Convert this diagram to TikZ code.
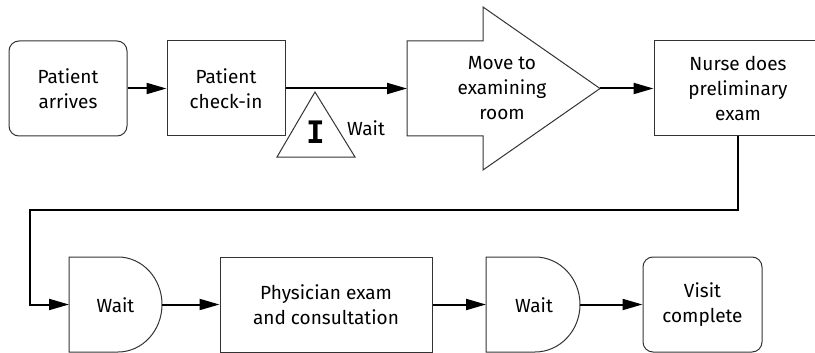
\documentclass[tikz,border=0pt]{standalone}
\usepackage{fontspec}
\setmainfont{Fira Sans}
\newfontfamily\monofont{DejaVu Sans Mono}
\usetikzlibrary{arrows.meta}
\begin{document}
\begin{tikzpicture}[x=1pt,y=-1pt,
  lbl/.style={font=\fontsize{19}{25}\selectfont, align=center, inner sep=0pt},
  box/.style={lbl, draw=black!80, line width=1pt, minimum height=95pt},
  rbox/.style={box, rounded corners=10pt},
  shp/.style={draw=black!80, line width=1pt},
  conn/.style={line width=2pt, -{Triangle[length=20pt,width=11pt]}}]
\useasboundingbox (0,0) rectangle (815,353);
% top row
\node[rbox, minimum width=118pt] (arrive) at (68,88.5) {Patient\\arrives};
\node[box, minimum width=118pt] (checkin) at (226,88.5) {Patient\\check-in};
\draw[shp] (407,41) -- (483,41) -- (483,7) -- (600,88.5) -- (483,170) -- (483,136) -- (407,136) -- cycle;
\coordinate (movetail) at (407,88.5);
\coordinate (movetip) at (600,88.5);
\node[lbl] (move) at (502,88) {Move to\\examining\\room};
\node[box, minimum width=168pt] (nurse) at (738,88.5) {Nurse does\\preliminary\\exam};
% inventory triangle
\draw[shp] (315,92) -- (355,157) -- (277,157) -- cycle;
\node[inner sep=0pt, font=\monofont\bfseries\fontsize{31}{31}\selectfont] (inv) at (315.5,132) {I};
\node[lbl] (wait0) at (366,128) {Wait};
% bottom row
\draw[shp] (69,257) -- (118,257) arc[start angle=-90, end angle=90, x radius=44, y radius=47.5] -- (69,352) -- cycle;
\node[lbl] (wait1) at (115.5,305) {Wait};
\coordinate (w1w) at (69,304.5);
\coordinate (w1e) at (162,304.5);
\node[box, minimum width=212pt] (phys) at (326,304.5) {Physician exam\\and consultation};
\draw[shp] (486,257) -- (535,257) arc[start angle=-90, end angle=90, x radius=45, y radius=47.5] -- (486,352) -- cycle;
\node[lbl] (wait2) at (534,305) {Wait};
\coordinate (w2w) at (486,304.5);
\coordinate (w2e) at (580,304.5);
\node[rbox, minimum width=119pt] (visit) at (702.5,304.5) {Visit\\complete};
% connectors
\coordinate (bend) at (30,210);
\draw[conn] (arrive) -- (checkin);
\draw[conn] (checkin) -- (movetail);
\draw[conn] (movetip) -- (nurse);
\draw[conn] (nurse.south) |- (bend) |- (w1w);
\draw[conn] (w1e) -- (phys);
\draw[conn] (phys) -- (w2w);
\draw[conn] (w2e) -- (visit);
\end{tikzpicture}
\end{document}
